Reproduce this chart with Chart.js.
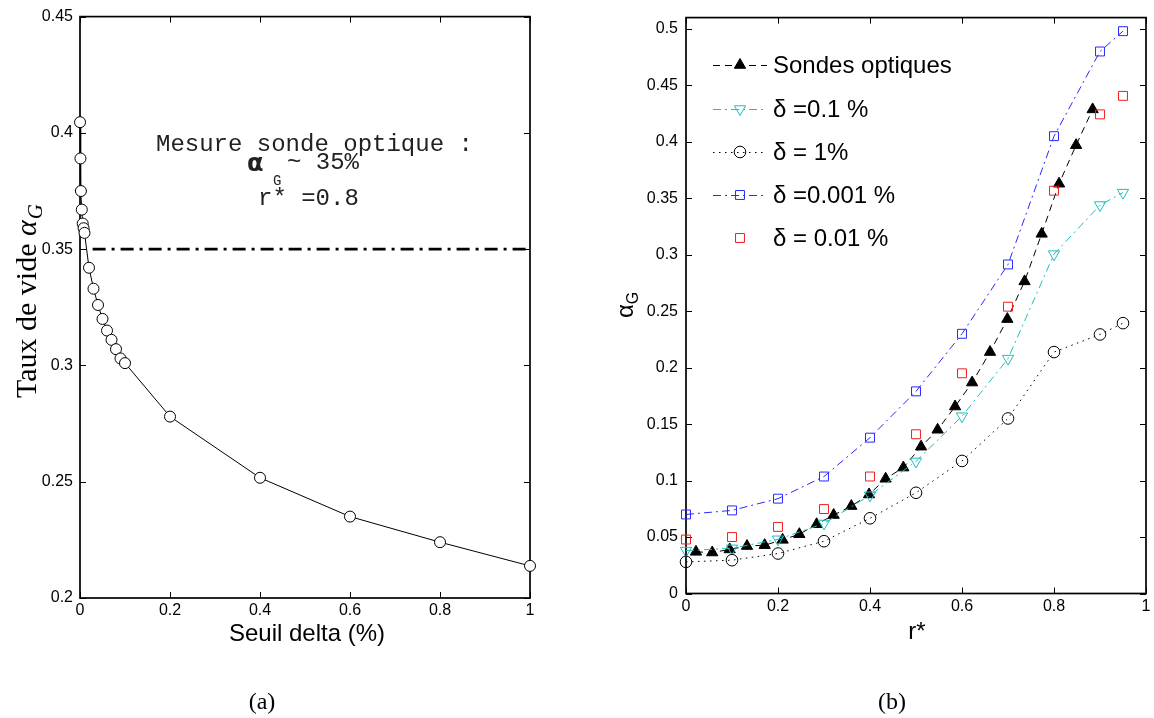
<!DOCTYPE html>
<html><head><meta charset="utf-8">
<script src="https://cdn.jsdelivr.net/npm/chart.js@4.4.0/dist/chart.umd.min.js"></script>
<style>
html,body{margin:0;padding:0;background:#fff;}
#wrap{position:relative;width:1154px;height:718px;overflow:hidden;background:#fff;}
canvas{position:absolute;left:0;top:0;}
</style></head><body>
<div id="wrap"><canvas id="c1" width="1154" height="718"></canvas><canvas id="c2" width="1154" height="718"></canvas></div>
<script>
// ---------- data: panel (a) ----------
const seuilDelta = [0.0001, 0.001, 0.002, 0.004, 0.006, 0.008, 0.01, 0.02, 0.03, 0.04, 0.05, 0.06, 0.07, 0.08, 0.09, 0.1, 0.2, 0.4, 0.6, 0.8, 1.0];
const tauxVide   = [0.4046, 0.389, 0.375, 0.367, 0.361, 0.359, 0.357, 0.342, 0.333, 0.326, 0.320, 0.315, 0.311, 0.307, 0.303, 0.301, 0.278, 0.2517, 0.235, 0.224, 0.2138];
const mesureX = [0.028, 1.0];
const mesureY = [0.35, 0.35];
const aXTicks = [0, 0.2, 0.4, 0.6, 0.8, 1];
const aYTicks = [0.2, 0.25, 0.3, 0.35, 0.4, 0.45];

// ---------- data: panel (b) ----------
const probeR = [0.0217, 0.057, 0.095, 0.1326, 0.171, 0.210, 0.2464, 0.284, 0.321, 0.3594, 0.398, 0.434, 0.4725, 0.511, 0.547, 0.585, 0.622, 0.661, 0.6986, 0.736, 0.7732, 0.811, 0.848, 0.884];
const probeA = [0.0369, 0.0363, 0.039, 0.042, 0.0428, 0.0475, 0.0525, 0.0613, 0.0695, 0.0774, 0.0877, 0.1016, 0.1115, 0.130, 0.145, 0.1656, 0.1868, 0.2138, 0.243, 0.2764, 0.3185, 0.3629, 0.397, 0.4287];
const rStar = [0, 0.1, 0.2, 0.3, 0.4, 0.5, 0.6, 0.7, 0.8, 0.9, 0.95];
const delta01   = [0.038, 0.040, 0.048, 0.062, 0.087, 0.117, 0.157, 0.208, 0.3005, 0.344, 0.355];
const delta1    = [0.028, 0.0295, 0.0354, 0.0463, 0.0666, 0.0892, 0.1174, 0.155, 0.2138, 0.2294, 0.2394];
const delta0001 = [0.070, 0.0736, 0.084, 0.1036, 0.138, 0.179, 0.230, 0.2914, 0.405, 0.480, 0.498];
const delta001  = [0.0478, 0.050, 0.059, 0.0748, 0.1036, 0.141, 0.195, 0.254, 0.3567, 0.4243, 0.4407];
const bLabels = ['Sondes optiques', '\u03b4 =0.1 %', '\u03b4 = 1%', '\u03b4 =0.001 %', '\u03b4 = 0.01 %'];
const bXTicks = [0, 0.2, 0.4, 0.6, 0.8, 1];
const bYTicks = [0, 0.05, 0.1, 0.15, 0.2, 0.25, 0.3, 0.35, 0.4, 0.45, 0.5];

const pts = (xs, ys) => xs.map((x, i) => ({x: x, y: ys[i]}));
const fmt = v => String(Math.round(v * 100) / 100);

Chart.defaults.font.family = '"Liberation Sans", Arial, sans-serif';
Chart.defaults.font.size = 16;
Chart.defaults.color = '#000';

function boxPlugin() {
  return {
    id: 'box',
    beforeDatasetsDraw(chart) {
      const {ctx, chartArea: a, scales: {x, y}} = chart;
      ctx.save();
      ctx.strokeStyle = '#000';
      ctx.lineWidth = 1;
      ctx.setLineDash([]);
      ctx.beginPath();
      x.ticks.forEach(t => {
        const px = Math.round(x.getPixelForValue(t.value)) + 0.5;
        ctx.moveTo(px, a.bottom); ctx.lineTo(px, a.bottom - 6);
        ctx.moveTo(px, a.top); ctx.lineTo(px, a.top + 6);
      });
      y.ticks.forEach(t => {
        const py = Math.round(y.getPixelForValue(t.value)) + 0.5;
        ctx.moveTo(a.left, py); ctx.lineTo(a.left + 6, py);
        ctx.moveTo(a.right, py); ctx.lineTo(a.right - 6, py);
      });
      ctx.stroke();
      ctx.lineWidth = 1.7;
      ctx.strokeRect(a.left, a.top, a.right - a.left, a.bottom - a.top);
      ctx.restore();
    }
  };
}

function scaleX(ticks, padding, min, max) {
  return {
    type: 'linear', position: 'bottom', min: min, max: max,
    grid: {display: false, drawTicks: false}, border: {display: false},
    ticks: {padding: padding, autoSkip: false, maxRotation: 0, callback: v => fmt(v)},
    afterBuildTicks: s => { s.ticks = ticks.map(v => ({value: v})); },
    afterFit: s => { s.height = 40; }
  };
}
function scaleY(ticks, padding, min, max, width) {
  return {
    type: 'linear', position: 'left', min: min, max: max,
    grid: {display: false, drawTicks: false}, border: {display: false},
    ticks: {padding: padding, autoSkip: false, callback: v => fmt(v)},
    afterBuildTicks: s => { s.ticks = ticks.map(v => ({value: v})); },
    afterFit: s => { s.width = width; }
  };
}

// ---------- chart (a) ----------
new Chart(document.getElementById('c1'), {
  type: 'scatter',
  data: {
    datasets: [
      {data: pts(seuilDelta, tauxVide), showLine: true, borderColor: '#000', borderWidth: 1,
       pointStyle: 'circle', pointRadius: 5.5, pointBorderWidth: 1, pointBorderColor: '#000',
       pointBackgroundColor: '#fff', clip: false, order: 1},
      {data: pts(mesureX, mesureY), showLine: true, borderColor: '#000', borderWidth: 2.6,
       borderDash: [13, 6, 3, 6], pointRadius: 0, clip: false, order: 2}
    ]
  },
  options: {
    responsive: false, animation: false, devicePixelRatio: 1, events: [],
    layout: {padding: {left: 0, top: 13, right: 624, bottom: 80}},
    plugins: {legend: {display: false}, tooltip: {enabled: false}},
    scales: {x: scaleX(aXTicks, 3, 0, 1), y: scaleY(aYTicks, 7, 0.2, 0.45, 80)}
  },
  plugins: [boxPlugin(), {
    id: 'textA',
    afterDraw(chart) {
      const ctx = chart.ctx;
      ctx.save();
      ctx.textAlign = 'left'; ctx.textBaseline = 'alphabetic';
      // annotation
      ctx.fillStyle = '#222';
      ctx.font = '24px "Liberation Mono", monospace';
      ctx.fillText('Mesure sonde optique :', 156, 151);
      ctx.fillText('~ 35%', 287, 169);
      ctx.fillText('r* =0.8', 258, 205);
      ctx.font = 'bold 24px "DejaVu Sans", sans-serif';
      ctx.fillText('\u03b1', 247, 171);
      ctx.font = '14px "Liberation Mono", monospace';
      ctx.fillText('G', 273, 185);
      // x title
      ctx.fillStyle = '#000';
      ctx.textAlign = 'center'; ctx.textBaseline = 'middle';
      ctx.font = '24px "Liberation Sans", sans-serif';
      ctx.fillText('Seuil delta (%)', 307, 634);
      // caption
      ctx.font = '24px "Liberation Serif", serif';
      ctx.fillText('(a)', 262, 703);
      // y title
      ctx.textAlign = 'left'; ctx.textBaseline = 'alphabetic';
      ctx.translate(36, 398); ctx.rotate(-Math.PI / 2);
      ctx.font = '30px "Liberation Serif", serif';
      const t = 'Taux de vide ';
      ctx.fillText(t, 0, 0);
      let w = ctx.measureText(t).width;
      ctx.font = 'italic 30px "Liberation Serif", serif';
      ctx.fillText('\u03b1', w, 0);
      w += ctx.measureText('\u03b1').width;
      ctx.font = 'italic 21px "Liberation Serif", serif';
      ctx.fillText('G', w + 1, 6);
      ctx.restore();
    }
  }]
});

// ---------- chart (b) ----------
const CYAN = 'rgb(30,190,190)', BLUE = 'rgb(40,40,255)', RED = 'rgb(240,30,30)';
const bStyles = [
  {borderColor: '#000', borderDash: [7, 5], pointStyle: 'triangle', rotation: 0, pointRadius: 6.5, fill: '#000', stroke: '#000', line: true},
  {borderColor: CYAN, borderDash: [8, 4, 2, 4], pointStyle: 'triangle', rotation: 180, pointRadius: 6.5, fill: 'rgba(0,0,0,0)', stroke: CYAN, line: true},
  {borderColor: '#000', borderDash: [1.5, 4.5], pointStyle: 'circle', rotation: 0, pointRadius: 5.8, fill: 'rgba(0,0,0,0)', stroke: '#000', line: true},
  {borderColor: BLUE, borderDash: [8, 4, 2, 4], pointStyle: 'rect', rotation: 0, pointRadius: 6.3, fill: 'rgba(0,0,0,0)', stroke: BLUE, line: true},
  {borderColor: RED, borderDash: [], pointStyle: 'rect', rotation: 0, pointRadius: 6.3, fill: 'rgba(0,0,0,0)', stroke: RED, line: false}
];
const bSeries = [pts(probeR, probeA), pts(rStar, delta01), pts(rStar, delta1), pts(rStar, delta0001), pts(rStar, delta001)];
const bOrder = [5, 4, 3, 2, 1];

new Chart(document.getElementById('c2'), {
  type: 'scatter',
  data: {
    datasets: bSeries.map((d, i) => ({
      label: bLabels[i], data: d, showLine: bStyles[i].line,
      borderColor: bStyles[i].borderColor, borderWidth: 1, borderDash: bStyles[i].borderDash,
      pointStyle: bStyles[i].pointStyle, rotation: bStyles[i].rotation, pointRadius: bStyles[i].pointRadius,
      pointBackgroundColor: bStyles[i].fill, pointBorderColor: bStyles[i].stroke, pointBorderWidth: 1,
      clip: false, order: bOrder[i]
    }))
  },
  options: {
    responsive: false, animation: false, devicePixelRatio: 1, events: [],
    layout: {padding: {left: 626, top: 14, right: 8, bottom: 84.5}},
    plugins: {legend: {display: false}, tooltip: {enabled: false}},
    scales: {x: scaleX(bXTicks, 3, 0, 1), y: scaleY(bYTicks, 8, 0, 0.51, 60)}
  },
  plugins: [boxPlugin(), {
    id: 'textB',
    afterDraw(chart) {
      const ctx = chart.ctx;
      ctx.save();
      // legend
      const ys = [65, 109, 152, 195, 238];
      bLabels.forEach((lab, i) => {
        const s = bStyles[i];
        const y = ys[i];
        if (s.line) {
          ctx.save();
          ctx.strokeStyle = s.borderColor; ctx.lineWidth = 1; ctx.setLineDash(s.borderDash);
          ctx.beginPath(); ctx.moveTo(713, y + 0.5); ctx.lineTo(767, y + 0.5); ctx.stroke();
          ctx.restore();
        }
        ctx.save();
        ctx.setLineDash([]);
        ctx.fillStyle = s.fill; ctx.strokeStyle = s.stroke; ctx.lineWidth = 1;
        Chart.helpers.drawPoint(ctx, {pointStyle: s.pointStyle, radius: s.pointRadius, rotation: s.rotation, borderWidth: 1}, 740, y);
        ctx.restore();
        ctx.fillStyle = '#000';
        ctx.font = '24px "Liberation Sans", sans-serif';
        ctx.textAlign = 'left'; ctx.textBaseline = 'middle';
        ctx.fillText(lab, 773, y + 1);
      });
      // x title
      ctx.textAlign = 'center'; ctx.textBaseline = 'middle';
      ctx.font = '24px "Liberation Sans", sans-serif';
      ctx.fillText('r*', 917, 632);
      // caption
      ctx.font = '24px "Liberation Serif", serif';
      ctx.fillText('(b)', 892, 703);
      // y title (rotated, centred on the axis)
      ctx.textAlign = 'left'; ctx.textBaseline = 'alphabetic';
      ctx.translate(633, 318); ctx.rotate(-Math.PI / 2);
      ctx.font = '24px "Liberation Sans", sans-serif';
      ctx.fillText('\u03b1', 0, 0);
      const w = ctx.measureText('\u03b1').width;
      ctx.font = '16px "Liberation Sans", sans-serif';
      ctx.fillText('G', w, 5);
      ctx.restore();
    }
  }]
});
</script>
</body></html>
